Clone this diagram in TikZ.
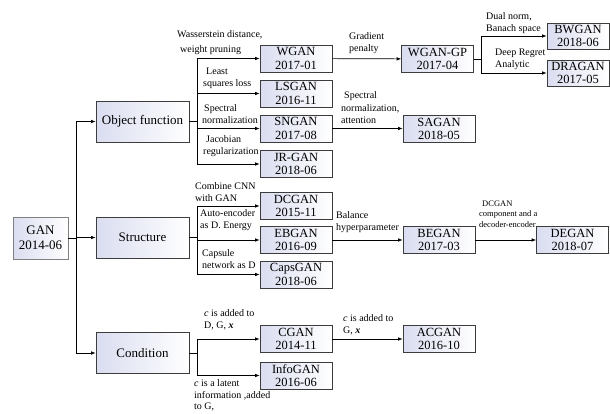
\documentclass[tikz,border=0pt]{standalone}
\usepackage{fontspec}
\setmainfont{Liberation Serif}
\usetikzlibrary{arrows.meta}
\definecolor{boxblue}{RGB}{218,221,240}
\definecolor{edgegray}{RGB}{60,60,60}
\begin{document}
\begin{tikzpicture}[x=1pt,y=-1pt,
  base/.style={inner sep=0pt, align=center, left color=boxblue, right color=white},
  thickedge/.style={append after command={\pgfextra{\draw[line width=1.3pt,edgegray] ([xshift=0.2pt]\tikzlastnode.south west) -- (\tikzlastnode.south east) -- ([yshift=-0.2pt]\tikzlastnode.north east);}}},
  mbox/.style={base, draw=edgegray, line width=0.6pt, minimum width=72pt, minimum height=27pt, font=\rmfamily\fontsize{12.5}{13.5}\selectfont, thickedge},
  cbox/.style={base, draw=edgegray, line width=0.6pt, minimum width=93pt, minimum height=41pt, font=\rmfamily\fontsize{13}{14}\selectfont, thickedge},
  gbox/.style={base, draw=gray, line width=0.7pt, minimum width=55pt, minimum height=42pt, font=\rmfamily\fontsize{13}{15}\selectfont},
  lbl/.style={anchor=base west, align=left, inner sep=0pt, font=\rmfamily\fontsize{10}{12.5}\selectfont},
  slbl/.style={anchor=base west, align=left, inner sep=0pt, font=\rmfamily\fontsize{8.5}{10.5}\selectfont},
  con/.style={line width=0.7pt, black},
  arr/.style={con, -{Latex[length=4.5pt,width=3.5pt]}}
]
\useasboundingbox (0,0) rectangle (610,413);

% root and categories
\node[gbox] (gan) at (40.5,238) {GAN\\2014-06};
\node[cbox] (of) at (142.5,121.5) {Object function};
\node[cbox] (st) at (142.5,237.5) {Structure};
\node[cbox] (cd) at (142.5,353) {Condition};

% models column 1
\node[mbox] (wgan) at (296,58.5) {WGAN\\2017-01};
\node[mbox] (lsgan) at (296,93.5) {LSGAN\\2016-11};
\node[mbox] (sngan) at (296,128.5) {SNGAN\\2017-08};
\node[mbox] (jrgan) at (296,164) {JR-GAN\\2018-06};
\node[mbox] (dcgan) at (296,206) {DCGAN\\2015-11};
\node[mbox] (ebgan) at (296,240) {EBGAN\\2016-09};
\node[mbox] (capsgan) at (296,274.5) {CapsGAN\\2018-06};
\node[mbox] (cgan) at (296,339) {CGAN\\2014-11};
\node[mbox] (infogan) at (296,375.5) {InfoGAN\\2016-06};

% models column 2 and 3
\node[mbox] (wgangp) at (437.5,59) {WGAN-GP\\2017-04};
\node[mbox] (sagan) at (439,129) {SAGAN\\2018-05};
\node[mbox] (began) at (439,240) {BEGAN\\2017-03};
\node[mbox] (acgan) at (439,339) {ACGAN\\2016-10};
\node[mbox] (degan) at (572.5,240) {DEGAN\\2018-07};
\node[mbox, minimum width=62pt, minimum height=26pt] (bwgan) at (578,36) {BWGAN\\2018-06};
\node[mbox, minimum width=62pt, minimum height=26pt] (dragan) at (578,73) {DRAGAN\\2017-05};

% trunk
\coordinate (t0) at (76,238);
\coordinate (t1) at (76,121.5);
\coordinate (t2) at (76,237.5);
\coordinate (t3) at (76,353);
\draw[con] (gan.east |- t0) -- (t0);
\draw[con] (t1) -- (t3);
\draw[arr] (t1) -- (of);
\draw[arr] (t2) -- (st);
\draw[arr] (t3) -- (cd);

% object function branch
\coordinate (b1) at (197,121.5);
\draw[con] (of.east) -- (b1);
\draw[arr] (b1) |- (wgan);
\draw[arr] (b1) |- (lsgan);
\draw[arr] (b1) |- (sngan);
\draw[arr] (b1) |- (jrgan);

% structure branch
\coordinate (b2) at (197,237.5);
\draw[con] (st.east) -- (b2);
\draw[arr] (b2) |- (dcgan);
\draw[arr] (b2) |- (ebgan);
\draw[arr] (b2) |- (capsgan);

% condition branch
\coordinate (b3) at (197,353);
\draw[con] (cd.east) -- (b3);
\draw[arr] (b3) |- (cgan);
\draw[arr] (b3) |- (infogan);

% further arrows
\draw[arr] (wgan) -- (wgangp);
\coordinate (b4) at (481,59);
\draw[con] (wgangp.east) -- (b4);
\draw[arr] (b4) |- (bwgan);
\draw[arr] (b4) |- (dragan);
\draw[arr] (sngan.east) -- (sagan.west |- sngan.east);
\draw[arr] (ebgan) -- (began);
\draw[arr] (began) -- (degan);
\draw[arr] (cgan) -- (acgan);

% labels (anchored at the baseline of the last line)
\node[lbl] (l1) at (177,52.5) {Wasserstein distance,\\[2.5pt]\hspace*{3pt}weight pruning};
\node[lbl] (l2) at (203,86.5) {\hspace*{3pt}Least\\squares loss};
\node[lbl] (l3) at (202,123.5) {\hspace*{2pt}Spectral\\normalization};
\node[lbl] (l4) at (203,154.5) {\hspace*{3pt}Jacobian\\regularization};
\node[lbl] (l5) at (195,201.5) {Combine CNN\\with GAN};
\node[lbl] (l6) at (200,228.5) {Auto-encoder\\as D. Energy};
\node[lbl] (l7) at (202,268.5) {Capsule\\network as D};
\node[lbl] (l8) at (204,328.5) {\textit{c} is added to\\D, G, \textbf{\textit{x}}};
\node[lbl, font=\rmfamily\fontsize{10}{11.5}\selectfont] (l9) at (194,409.5) {\textit{c} is a latent\\information ,added\\to G,};
\node[lbl] (l10) at (349,51.5) {Gradient\\penalty};
\node[lbl] (l11) at (486,31.5) {Dual norm,\\Banach space};
\node[lbl] (l12) at (495,67.5) {Deep Regret\\Analytic};
\node[lbl] (l13) at (341,123.5) {\hspace*{3pt}Spectral\\normalization,\\attention};
\node[lbl] (l14) at (336,230.5) {Balance\\hyperparameter};
\node[slbl] (l15) at (479,227) {\hspace*{3pt}DCGAN\\component and a\\decoder-encoder};
\node[lbl] (l16) at (343,333.5) {\textit{c} is added to\\G, \textbf{\textit{x}}};
\end{tikzpicture}
\end{document}
